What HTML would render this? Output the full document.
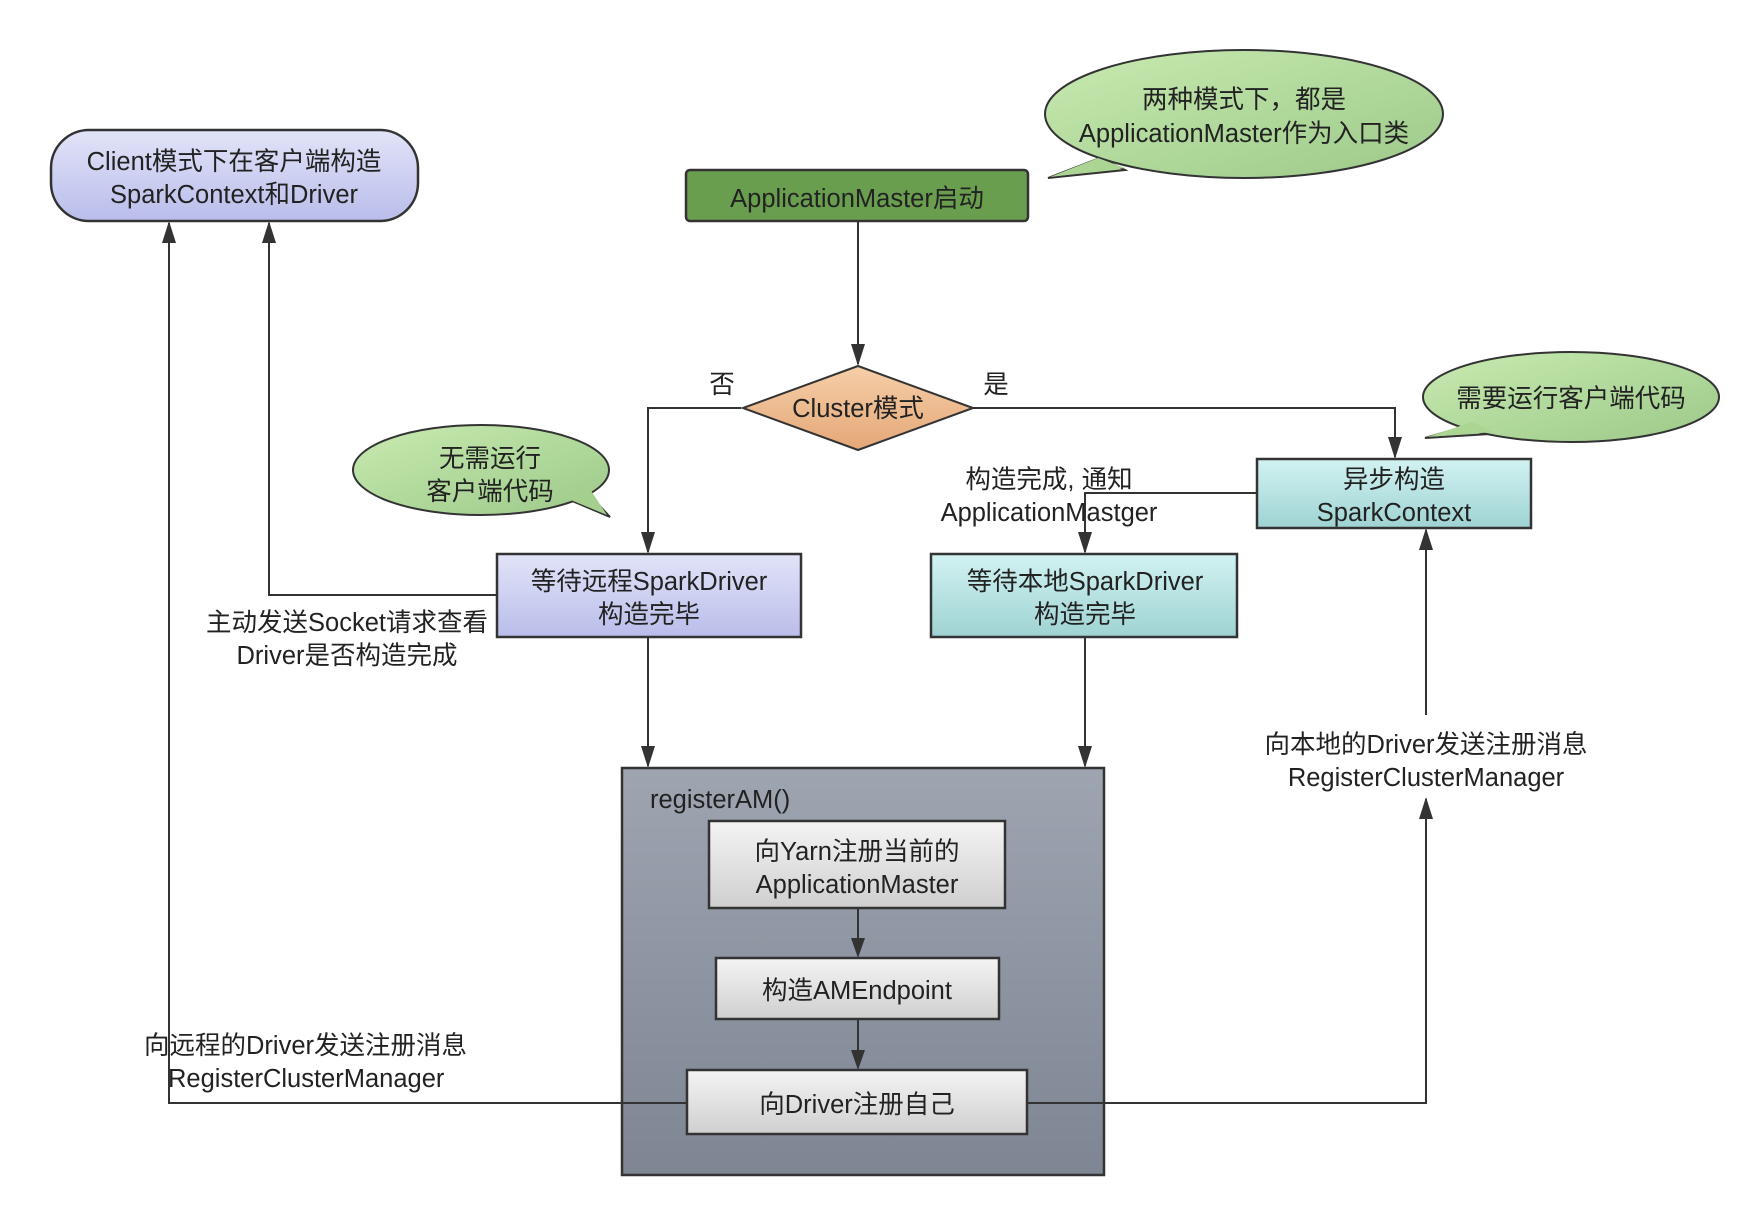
<!DOCTYPE html>
<html><head><meta charset="utf-8"><style>
html,body{margin:0;padding:0;background:#fff}
svg{display:block}
text{font-family:"Liberation Sans","Noto Sans CJK SC",sans-serif;font-size:25.5px;fill:#222}
</style></head><body>
<svg width="1761" height="1220" viewBox="0 0 1761 1220" xmlns="http://www.w3.org/2000/svg">
<defs>
<linearGradient id="gp" x1="0" y1="0" x2="0" y2="1"><stop offset="0" stop-color="#e2e4f8"/><stop offset="1" stop-color="#b9bdea"/></linearGradient>
<linearGradient id="gc" x1="0" y1="0" x2="0" y2="1"><stop offset="0" stop-color="#d2f2f2"/><stop offset="1" stop-color="#9fd3d3"/></linearGradient>
<linearGradient id="gb" x1="0" y1="0" x2="1" y2="1"><stop offset="0" stop-color="#c8eab0"/><stop offset="1" stop-color="#9cc98a"/></linearGradient>
<linearGradient id="gg" x1="0" y1="0" x2="0" y2="1"><stop offset="0" stop-color="#9ea5b1"/><stop offset="1" stop-color="#7e8593"/></linearGradient>
<linearGradient id="gw" x1="0" y1="0" x2="0" y2="1"><stop offset="0" stop-color="#f4f4f4"/><stop offset="1" stop-color="#cfcfcf"/></linearGradient>
<linearGradient id="go" x1="0" y1="0" x2="0" y2="1"><stop offset="0" stop-color="#f6cfa8"/><stop offset="1" stop-color="#e4a778"/></linearGradient>
</defs>
<g stroke="#333" stroke-width="2" fill="none">
<line x1="858" y1="221" x2="858" y2="364"/>
<polyline points="741,408 648,408 648,552"/>
<polyline points="973,408 1395,408 1395,457"/>
<polyline points="1257,493 1085,493 1085,552"/>
<line x1="648" y1="637" x2="648" y2="766"/>
<line x1="1085" y1="637" x2="1085" y2="766"/>
<polyline points="497,595 269,595 269,223"/>
<line x1="1426" y1="715" x2="1426" y2="530"/>
</g>
<g fill="#333">
<path d="M851,344 L865,344 L858,366 Z"/>
<path d="M641,532 L655,532 L648,554 Z"/>
<path d="M1388,437 L1402,437 L1395,459 Z"/>
<path d="M1078,532 L1092,532 L1085,554 Z"/>
<path d="M641,746 L655,746 L648,768 Z"/>
<path d="M1078,746 L1092,746 L1085,768 Z"/>
<path d="M262,243 L276,243 L269,221 Z"/>
<path d="M162,243 L176,243 L169,221 Z"/>
<path d="M1419,819 L1433,819 L1426,797 Z"/>
<path d="M1419,550 L1433,550 L1426,528 Z"/>
</g>
<!-- Client box -->
<rect x="51" y="130" width="367" height="91" rx="38" fill="url(#gp)" stroke="#333" stroke-width="2.5"/>
<text x="234" y="170" text-anchor="middle">Client模式下在客户端构造</text>
<text x="234" y="203" text-anchor="middle">SparkContext和Driver</text>
<!-- AM start -->
<rect x="686" y="170" width="342" height="51" rx="4" fill="#6a9e4f" stroke="#333" stroke-width="2.5"/>
<text x="857" y="207" text-anchor="middle">ApplicationMaster启动</text>
<!-- top bubble -->
<path d="M1048,178 L1100,158 L1125,170 Z" fill="#b0d898" stroke="#333" stroke-width="2"/>
<ellipse cx="1244" cy="114" rx="199" ry="64" fill="url(#gb)" stroke="#333" stroke-width="2"/>
<path d="M1050,177 L1098,158 L1125,168 Z" fill="#acd594"/>
<text x="1244" y="108" text-anchor="middle">两种模式下，都是</text>
<text x="1244" y="142" text-anchor="middle">ApplicationMaster作为入口类</text>
<!-- diamond -->
<polygon points="858,366 973,408 858,450 743,408" fill="url(#go)" stroke="#333" stroke-width="2"/>
<text x="858" y="417" text-anchor="middle">Cluster模式</text>
<text x="722" y="393" text-anchor="middle">否</text>
<text x="996" y="393" text-anchor="middle">是</text>
<!-- right bubble -->
<path d="M1425,438 L1470,425 L1490,434 Z" fill="#b0d898" stroke="#333" stroke-width="2"/>
<ellipse cx="1571" cy="397" rx="148" ry="45" fill="url(#gb)" stroke="#333" stroke-width="2"/>
<path d="M1427,437 L1472,422 L1495,432 Z" fill="#acd594"/>
<text x="1571" y="407" text-anchor="middle">需要运行客户端代码</text>
<!-- async -->
<rect x="1257" y="459" width="274" height="69" fill="url(#gc)" stroke="#333" stroke-width="2.5"/>
<text x="1394" y="488" text-anchor="middle">异步构造</text>
<text x="1394" y="521" text-anchor="middle">SparkContext</text>
<!-- left bubble -->
<path d="M610,517 L570,500 L585,490 Z" fill="#a8d190" stroke="#333" stroke-width="2"/>
<ellipse cx="481" cy="470" rx="128" ry="45" fill="url(#gb)" stroke="#333" stroke-width="2"/>
<path d="M607,515 L566,498 L588,486 Z" fill="#a4cf8e"/>
<text x="490" y="467" text-anchor="middle">无需运行</text>
<text x="490" y="500" text-anchor="middle">客户端代码</text>
<!-- wait boxes -->
<rect x="497" y="554" width="304" height="83" fill="url(#gp)" stroke="#333" stroke-width="2.5"/>
<text x="649" y="590" text-anchor="middle">等待远程SparkDriver</text>
<text x="649" y="623" text-anchor="middle">构造完毕</text>
<rect x="931" y="554" width="306" height="83" fill="url(#gc)" stroke="#333" stroke-width="2.5"/>
<text x="1085" y="590" text-anchor="middle">等待本地SparkDriver</text>
<text x="1085" y="623" text-anchor="middle">构造完毕</text>
<text x="1049" y="488" text-anchor="middle">构造完成, 通知</text>
<text x="1049" y="521" text-anchor="middle">ApplicationMastger</text>
<text x="347" y="631" text-anchor="middle">主动发送Socket请求查看</text>
<text x="347" y="664" text-anchor="middle">Driver是否构造完成</text>
<!-- container -->
<rect x="622" y="768" width="482" height="407" fill="url(#gg)" stroke="#333" stroke-width="2.5"/>
<g stroke="#333" stroke-width="2" fill="none">
<polyline points="687,1103 169,1103 169,223"/>
<polyline points="1027,1103 1426,1103 1426,799"/>
</g>
<text x="650" y="808">registerAM()</text>
<rect x="709" y="821" width="296" height="87" fill="url(#gw)" stroke="#333" stroke-width="2.5"/>
<text x="857" y="860" text-anchor="middle">向Yarn注册当前的</text>
<text x="857" y="893" text-anchor="middle">ApplicationMaster</text>
<rect x="716" y="958" width="283" height="61" fill="url(#gw)" stroke="#333" stroke-width="2.5"/>
<text x="857" y="999" text-anchor="middle">构造AMEndpoint</text>
<rect x="687" y="1070" width="340" height="64" fill="url(#gw)" stroke="#333" stroke-width="2.5"/>
<text x="857" y="1113" text-anchor="middle">向Driver注册自己</text>
<g stroke="#333" stroke-width="2"><line x1="858" y1="908" x2="858" y2="940"/><line x1="858" y1="1019" x2="858" y2="1052"/></g>
<g fill="#333"><path d="M851,938 L865,938 L858,958 Z"/><path d="M851,1050 L865,1050 L858,1070 Z"/></g>
<text x="1426" y="753" text-anchor="middle">向本地的Driver发送注册消息</text>
<text x="1426" y="786" text-anchor="middle">RegisterClusterManager</text>
<text x="144" y="1054">向远程的Driver发送注册消息</text>
<text x="168" y="1087">RegisterClusterManager</text>
</svg>
</body></html>
